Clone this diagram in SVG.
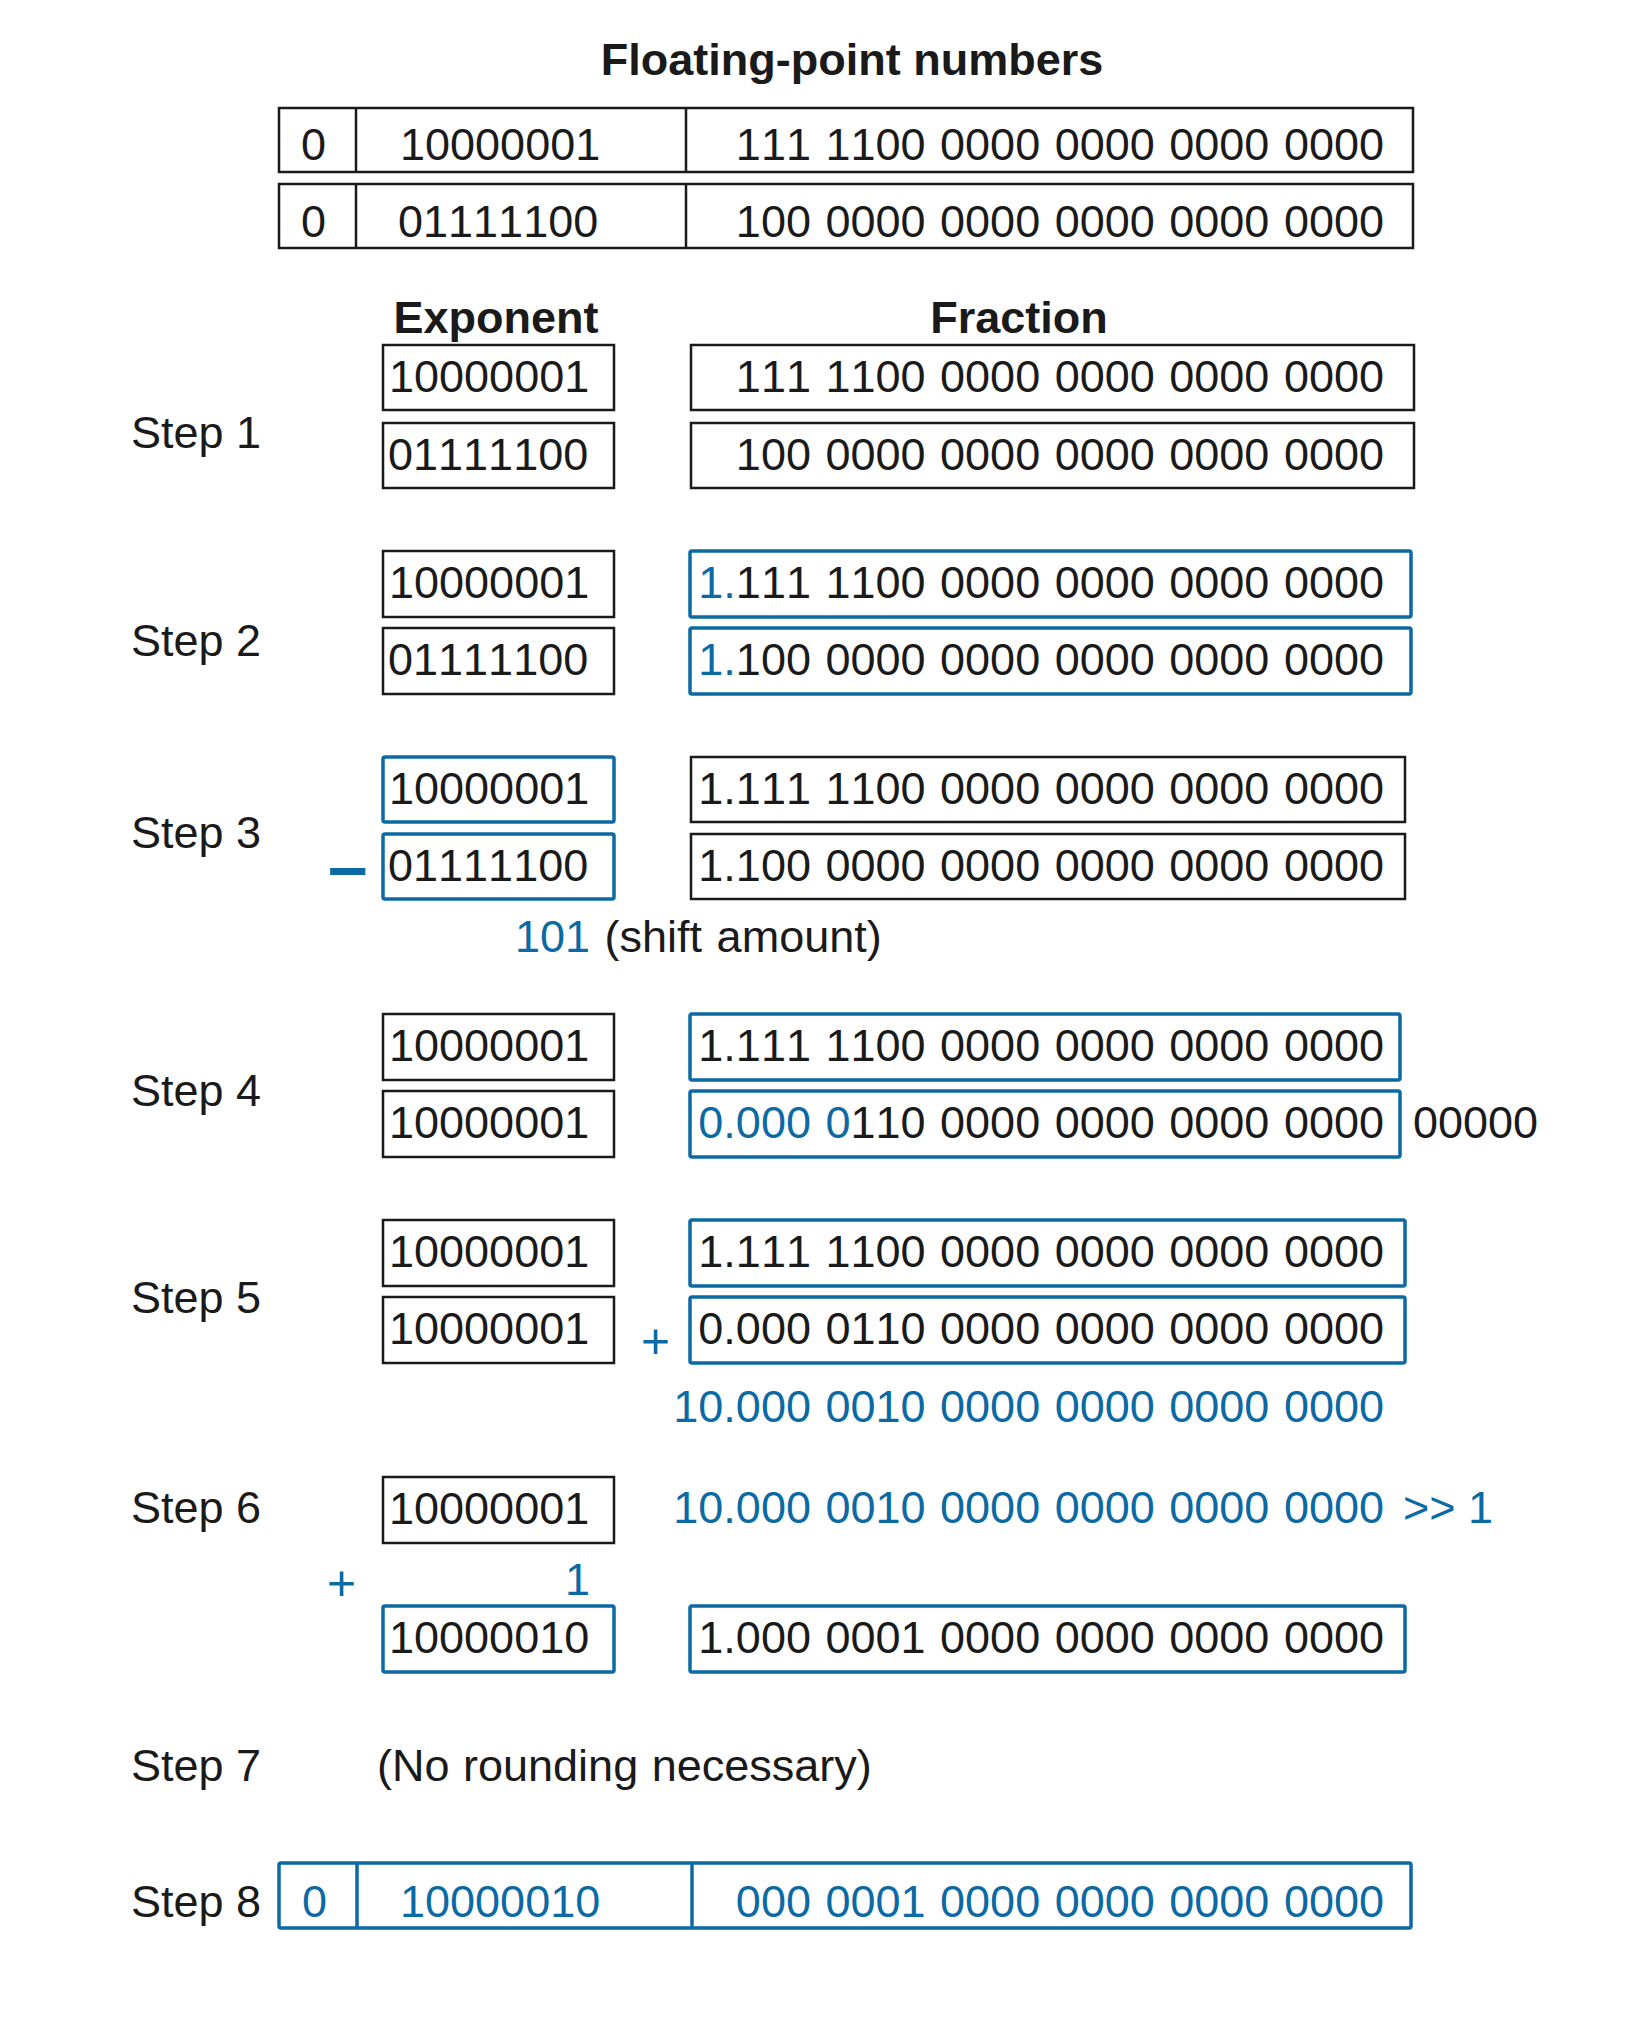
<svg xmlns="http://www.w3.org/2000/svg" width="1638" height="2018" viewBox="0 0 1638 2018">
<style>
text{font-family:"Liberation Sans",Arial,Helvetica,sans-serif;font-size:45px;fill:#1a1a1a;font-kerning:none}
.b{font-weight:bold}
.bl{fill:#0b6aa4}
.e{text-anchor:end;word-spacing:2px}
.m{text-anchor:middle}
.p{font-size:50px}
.kb{fill:none;stroke:#1a1a1a;stroke-width:2.5}
.ub{fill:none;stroke:#0b6aa4;stroke-width:3.5}
</style>
<rect width="1638" height="2018" fill="#fff"/>
<g id="title"><text class="b m" x="852" y="75">Floating-point numbers</text></g>
<g id="fp1">
<rect class="kb" x="279" y="108" width="1134" height="64"/>
<line class="kb" x1="356" y1="108" x2="356" y2="172"/>
<line class="kb" x1="686" y1="108" x2="686" y2="172"/>
<text x="301" y="160">0</text><text x="400" y="160">10000001</text>
<text class="e" x="1384" y="160">111 1100 0000 0000 0000 0000</text>
</g>
<g id="fp2">
<rect class="kb" x="279" y="184" width="1134" height="64"/>
<line class="kb" x1="356" y1="184" x2="356" y2="248"/>
<line class="kb" x1="686" y1="184" x2="686" y2="248"/>
<text x="301" y="237">0</text><text x="398" y="237">01111100</text>
<text class="e" x="1384" y="237">100 0000 0000 0000 0000 0000</text>
</g>
<g id="headers">
<text class="b m" x="496" y="333">Exponent</text>
<text class="b m" x="1019" y="333">Fraction</text>
</g>
<g id="step1">
<text x="131" y="448">Step 1</text>
<rect class="kb" x="383" y="345" width="231" height="65"/>
<rect class="kb" x="383" y="423" width="231" height="65"/>
<rect class="kb" x="691" y="345" width="723" height="65"/>
<rect class="kb" x="691" y="423" width="723" height="65"/>
<text x="389" y="392">10000001</text><text x="388" y="470">01111100</text>
<text class="e" x="1384" y="392">111 1100 0000 0000 0000 0000</text>
<text class="e" x="1384" y="470">100 0000 0000 0000 0000 0000</text>
</g>
<g id="step2">
<text x="131" y="656">Step 2</text>
<rect class="kb" x="383" y="551" width="231" height="66"/>
<rect class="kb" x="383" y="628" width="231" height="66"/>
<rect class="ub" x="690" y="551" width="721" height="66" rx="2"/>
<rect class="ub" x="690" y="628" width="721" height="66" rx="2"/>
<text x="389" y="598">10000001</text><text x="388" y="675">01111100</text>
<text class="e" x="1384" y="598"><tspan class="bl">1.</tspan>111 1100 0000 0000 0000 0000</text>
<text class="e" x="1384" y="675"><tspan class="bl">1.</tspan>100 0000 0000 0000 0000 0000</text>
</g>
<g id="step3">
<text x="131" y="848">Step 3</text>
<rect class="ub" x="383" y="757" width="231" height="65" rx="2"/>
<rect class="ub" x="383" y="834" width="231" height="65" rx="2"/>
<rect class="kb" x="691" y="757" width="714" height="65"/>
<rect class="kb" x="691" y="834" width="714" height="65"/>
<text class="b bl" x="328" y="890" style="font-size:71px">–</text>
<text x="389" y="804">10000001</text><text x="388" y="881">01111100</text>
<text class="e" x="1384" y="804">1.111 1100 0000 0000 0000 0000</text>
<text class="e" x="1384" y="881">1.100 0000 0000 0000 0000 0000</text>
<text x="515" y="952" style="word-spacing:2px"><tspan class="bl">101</tspan> (shift amount)</text>
</g>
<g id="step4">
<text x="131" y="1106">Step 4</text>
<rect class="kb" x="383" y="1014" width="231" height="66"/>
<rect class="kb" x="383" y="1091" width="231" height="66"/>
<rect class="ub" x="690" y="1014" width="710" height="66" rx="2"/>
<rect class="ub" x="690" y="1091" width="710" height="66" rx="2"/>
<text x="389" y="1061">10000001</text><text x="389" y="1138">10000001</text>
<text class="e" x="1384" y="1061">1.111 1100 0000 0000 0000 0000</text>
<text class="e" x="1384" y="1138"><tspan class="bl">0.000 0</tspan>110 0000 0000 0000 0000</text>
<text x="1413" y="1138">00000</text>
</g>
<g id="step5">
<text x="131" y="1313">Step 5</text>
<rect class="kb" x="383" y="1220" width="231" height="66"/>
<rect class="kb" x="383" y="1297" width="231" height="66"/>
<rect class="ub" x="690" y="1220" width="715" height="66" rx="2"/>
<rect class="ub" x="690" y="1297" width="715" height="66" rx="2"/>
<text x="389" y="1267">10000001</text><text x="389" y="1344">10000001</text>
<text class="e" x="1384" y="1267">1.111 1100 0000 0000 0000 0000</text>
<text class="e" x="1384" y="1344">0.000 0110 0000 0000 0000 0000</text>
<text class="bl p" x="641" y="1358">+</text>
<text class="e bl" x="1384" y="1422">10.000 0010 0000 0000 0000 0000</text>
</g>
<g id="step6">
<text x="131" y="1523">Step 6</text>
<rect class="kb" x="383" y="1477" width="231" height="66"/>
<text x="389" y="1524">10000001</text>
<text class="e bl" x="1384" y="1523">10.000 0010 0000 0000 0000 0000</text>
<text class="bl" x="1403" y="1523">&gt;&gt; 1</text>
<text class="bl p" x="327" y="1600">+</text>
<text class="bl" x="565" y="1595">1</text>
<rect class="ub" x="383" y="1606" width="231" height="66" rx="2"/>
<rect class="ub" x="690" y="1606" width="715" height="66" rx="2"/>
<text x="389" y="1653">10000010</text>
<text class="e" x="1384" y="1653">1.000 0001 0000 0000 0000 0000</text>
</g>
<g id="step7">
<text x="131" y="1781">Step 7</text>
<text x="377" y="1781" style="word-spacing:1px">(No rounding necessary)</text>
</g>
<g id="step8">
<text x="131" y="1917">Step 8</text>
<rect class="ub" x="279" y="1863" width="1132" height="65" rx="2"/>
<line class="ub" x1="357" y1="1863" x2="357" y2="1928"/>
<line class="ub" x1="692" y1="1863" x2="692" y2="1928"/>
<text class="bl" x="302" y="1917">0</text>
<text class="bl" x="400" y="1917">10000010</text>
<text class="e bl" x="1384" y="1917">000 0001 0000 0000 0000 0000</text>
</g>
<g id="connectors"></g>
</svg>
